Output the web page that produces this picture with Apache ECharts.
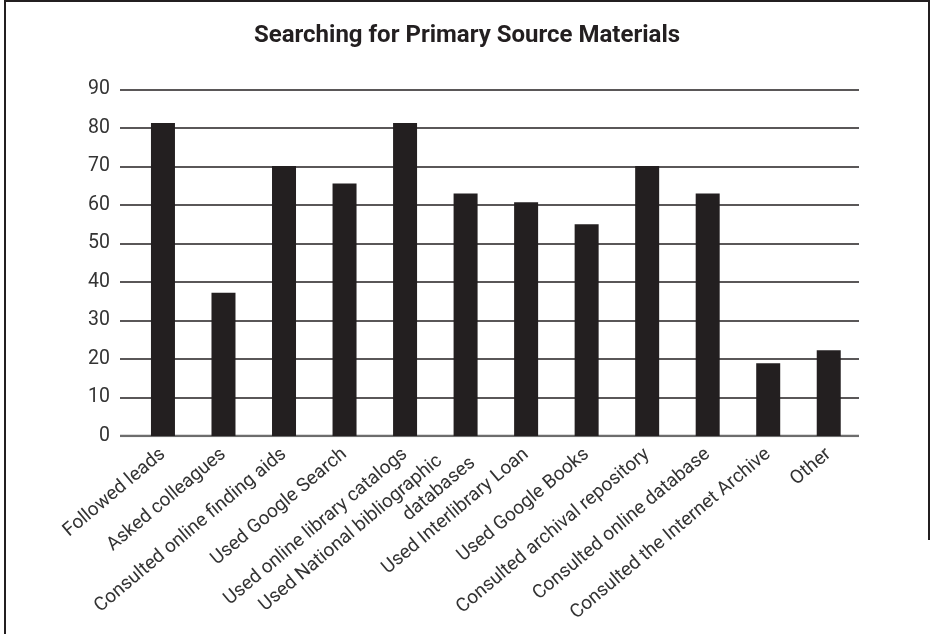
<!DOCTYPE html>
<html>
<head>
<meta charset="utf-8">
<script src="https://cdn.jsdelivr.net/npm/echarts@6/dist/echarts.min.js"></script>
<style>
html,body{margin:0;padding:0;background:#fff;}
#chart{width:934px;height:634px;}
</style>
</head>
<body>
<div id="chart"></div>
<script>
const title = 'Searching for Primary Source Materials';
const categories = [
  'Followed leads',
  'Asked colleagues',
  'Consulted online finding aids',
  'Used Google Search',
  'Used online library catalogs',
  'Used National bibliographic\ndatabases',
  'Used Interlibrary Loan',
  'Used Google Books',
  'Consulted archival repository',
  'Consulted online database',
  'Consulted the Internet Archive',
  'Other'
];
const values = [81.3, 37.2, 70.1, 65.6, 81.3, 63.0, 60.7, 55.0, 70.1, 63.0, 18.9, 22.3];
const yTicks = [0, 10, 20, 30, 40, 50, 60, 70, 80, 90];

const chart = echarts.init(document.getElementById('chart'), null, {renderer: 'canvas'});
const FONT = 'Roboto';
const TXT = '#333333';
const INK = '#231f20';
const XFS = 19;

const option = {
  backgroundColor: '#ffffff',
  animation: false,
  title: {
    text: title,
    left: 'center',
    top: 19,
    textStyle: {fontFamily: FONT, fontWeight: 'bold', fontSize: 24, color: INK}
  },
  graphic: [
    {type: 'line', shape: {x1: 5, y1: 0, x2: 5, y2: 634}, style: {stroke: INK, lineWidth: 2}},
    {type: 'line', shape: {x1: 5, y1: 1, x2: 930, y2: 1}, style: {stroke: INK, lineWidth: 2}},
    {type: 'line', shape: {x1: 929, y1: 0, x2: 929, y2: 540}, style: {stroke: INK, lineWidth: 2}}
  ],
  grid: [
    {left: 120, right: 75, top: 89.5, bottom: 198, containLabel: false, outerBoundsMode: 'none'},
    {left: 132.7, right: 75, top: 89.5, bottom: 198, containLabel: false, outerBoundsMode: 'none'}
  ],
  xAxis: [
    {type: 'value', gridIndex: 0, show: false, min: 0, max: 1},
    {
      type: 'category', gridIndex: 1, data: categories,
      axisLine: {show: false}, axisTick: {show: false},
      axisLabel: {
        interval: 0, rotate: 40, margin: 16,
        fontFamily: FONT, fontSize: XFS, color: TXT,
        formatter: function (v) {
          if (v.indexOf('\n') >= 0) {
            const p = v.split('\n');
            return '{a|' + p[0] + '}\n{b|' + p[1] + '}';
          }
          return v;
        },
        rich: {
          a: {fontFamily: FONT, fontSize: XFS, color: TXT, padding: [0, 24, 0, 0], lineHeight: 23},
          b: {fontFamily: FONT, fontSize: XFS, color: TXT, lineHeight: 23}
        }
      }
    }
  ],
  yAxis: [
    {
      type: 'value', gridIndex: 0, min: yTicks[0], max: yTicks[yTicks.length - 1], interval: 10,
      axisLine: {show: false}, axisTick: {show: false},
      axisLabel: {margin: 10, fontFamily: FONT, fontSize: 19.5, color: TXT},
      splitLine: {show: true, lineStyle: {color: INK, width: 1.5}}
    },
    {
      type: 'value', gridIndex: 1, min: 0, max: 90, interval: 10, show: false,
      splitLine: {show: false}
    }
  ],
  series: [
    {
      type: 'line', xAxisIndex: 0, yAxisIndex: 0,
      data: [[0, 0], [1, 0]], symbol: 'none',
      lineStyle: {color: '#6d6d6d', width: 2.5}, silent: true, z: 3
    },
    {
      type: 'bar', xAxisIndex: 1, yAxisIndex: 1,
      data: values, barWidth: 24,
      itemStyle: {color: INK}, z: 4
    }
  ]
};
chart.setOption(option);
</script>
</body>
</html>
